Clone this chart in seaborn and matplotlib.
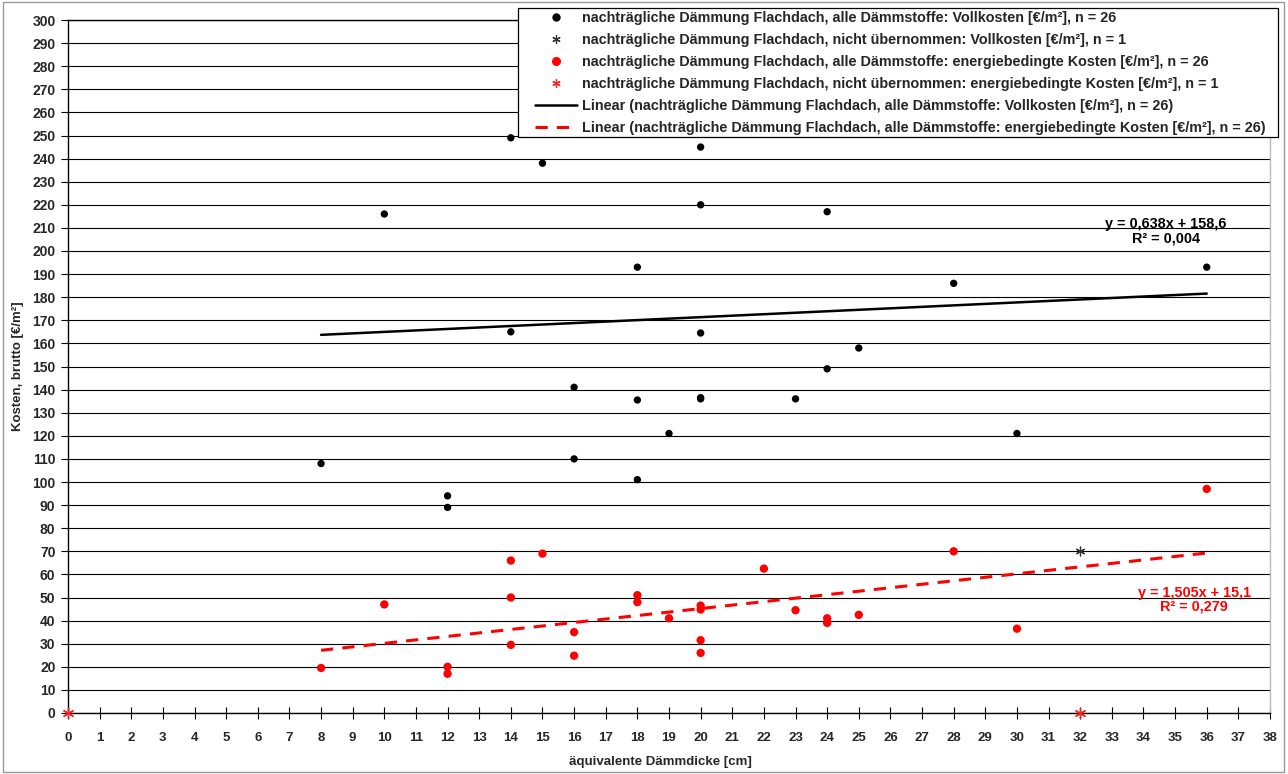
import numpy as np
import pandas as pd
import matplotlib.pyplot as plt
from matplotlib.lines import Line2D
from matplotlib.patches import Rectangle
import seaborn as sns

# ─────────────────────────────────────────────
# DATA
# ─────────────────────────────────────────────
voll_x = [8, 10, 12, 12, 14, 14, 15, 16, 16, 18, 18, 18, 19, 20, 20, 20, 20, 20,
          23, 24, 24, 25, 28, 30, 36]
voll_y = [108, 216, 94, 89, 249, 165, 238, 141, 110, 193, 135.5, 101, 121, 245,
          220, 164.5, 136.5, 136, 136, 217, 149, 158, 186, 121, 193]

energ_x = [8, 10, 12, 12, 14, 14, 14, 15, 16, 16, 18, 18, 19, 20, 20, 20, 20,
           22, 23, 24, 24, 25, 28, 30, 36]
energ_y = [19.5, 47, 20, 17, 66, 50, 29.5, 69, 35, 24.8, 51, 48, 41, 46.5, 44.8,
           31.5, 26, 62.5, 44.5, 41, 39, 42.5, 70, 36.5, 97]

# "nicht übernommen" (n = 1 each)
nicht_voll_x = [32]
nicht_voll_y = [70]
nicht_energ_x = [0, 32]
nicht_energ_y = [0, 0]

# trend lines (Excel linear fit as labelled)
voll_fit = (0.638, 158.6)
energ_fit = (1.505, 15.1)
fit_range = [8, 36]

x_ticks = list(range(0, 39))
y_ticks = list(range(0, 301, 10))

labels = [
    "nachträgliche Dämmung Flachdach, alle Dämmstoffe: Vollkosten [€/m²], n = 26",
    "nachträgliche Dämmung Flachdach, nicht übernommen: Vollkosten [€/m²], n = 1",
    "nachträgliche Dämmung Flachdach, alle Dämmstoffe: energiebedingte Kosten [€/m²], n = 26",
    "nachträgliche Dämmung Flachdach, nicht übernommen: energiebedingte Kosten [€/m²], n = 1",
    "Linear (nachträgliche Dämmung Flachdach, alle Dämmstoffe: Vollkosten [€/m²], n = 26)",
    "Linear (nachträgliche Dämmung Flachdach, alle Dämmstoffe: energiebedingte Kosten [€/m²], n = 26)",
]

# ─────────────────────────────────────────────
# SETTINGS
# ─────────────────────────────────────────────
sns.set_theme(style="white")
plt.rcParams['font.family'] = ['Liberation Sans', 'DejaVu Sans']
plt.rcParams['font.weight'] = 'bold'

W, H = 1288, 774
fig = plt.figure(figsize=(W / 100, H / 100), dpi=100)
ax = fig.add_axes([68 / W, 61 / H, 1202 / W, 693 / H])

# points
sns.scatterplot(x=voll_x, y=voll_y, ax=ax, color='black', s=28,
                edgecolor='none', zorder=3)
sns.scatterplot(x=energ_x, y=energ_y, ax=ax, color='#ff0000', s=36,
                edgecolor='none', zorder=3)
ax.scatter(nicht_voll_x, nicht_voll_y, marker=(6, 2, 0), s=40, color='#333333',
           linewidths=0.9, zorder=4, clip_on=False)
ax.scatter(nicht_energ_x, nicht_energ_y, marker=(6, 2, 0), s=55, color='#ff2020',
           linewidths=1.0, zorder=4, clip_on=False)

# trend lines
fx = np.array(fit_range, dtype=float)
sns.lineplot(x=fx, y=voll_fit[0] * fx + voll_fit[1], ax=ax, color='black',
             lw=1.8, zorder=2)
sns.lineplot(x=fx, y=energ_fit[0] * fx + energ_fit[1], ax=ax, color='#ff0000',
             lw=2.2, dashes=(4, 3), zorder=2)

ax.text(34.7, 208.5, "y = 0,638x + 158,6\nR² = 0,004", ha='center', va='center',
        fontsize=10.4, fontweight='bold', color='black', linespacing=1.0)
ax.text(35.6, 49, "y = 1,505x + 15,1\nR² = 0,279", ha='center', va='center',
        fontsize=10.4, fontweight='bold', color='#ff0000', linespacing=1.0)

# axes
ax.set_xlim(0, 38)
ax.set_ylim(0, 300)
ax.set_xticks(x_ticks)
ax.set_yticks(y_ticks)
ax.grid(axis='y', color='black', lw=0.8)
ax.grid(axis='x', visible=False)
ax.set_axisbelow(True)
for side in ['left', 'bottom', 'top']:
    ax.spines[side].set_color('black')
    ax.spines[side].set_linewidth(1.0)
ax.spines['right'].set_color('#bbbbbb')
ax.spines['right'].set_linewidth(1.0)

ax.tick_params(axis='x', direction='inout', length=8, width=0.8, color='black',
               labelsize=9.5, pad=10, bottom=True)
ax.tick_params(axis='y', direction='out', length=5, width=0.8, color='black',
               labelsize=10, pad=4, left=True)
for lab in ax.get_xticklabels() + ax.get_yticklabels():
    lab.set_fontweight('bold')

ax.set_xlabel("äquivalente Dämmdicke [cm]", fontsize=9.5, fontweight='bold',
              labelpad=8)
ax.xaxis.label.set_x((660 - 68) / 1202)
ax.set_ylabel("Kosten, brutto [€/m²]", fontsize=9.5, fontweight='bold',
              labelpad=6)

# legend box (frame drawn separately so it matches the Excel box)
fig.patches.append(Rectangle((518 / W, 1 - 137 / H), 760 / W, 129 / H,
                             transform=fig.transFigure, facecolor='white',
                             edgecolor='black', lw=0.9, zorder=2))

handles = [
    Line2D([], [], ls='none', marker='o', ms=5, color='black'),
    Line2D([], [], ls='none', marker=(6, 2, 0), ms=6, color='#333333', mew=0.9),
    Line2D([], [], ls='none', marker='o', ms=5.5, color='#ff0000'),
    Line2D([], [], ls='none', marker=(6, 2, 0), ms=6, color='#ff2020', mew=0.9),
    Line2D([], [], color='black', lw=1.8),
    Line2D([], [], color='#ff0000', lw=2.2, dashes=(4, 3)),
]
leg = fig.legend(handles, labels, loc='upper left',
                 bbox_to_anchor=(535 / W, 1 - 11 / H),
                 borderaxespad=0, borderpad=0, frameon=False,
                 labelspacing=0.55, handlelength=2.9, handletextpad=0.35,
                 prop={'weight': 'bold', 'size': 10.4})
leg.set_zorder(3)

# chart border
fig.patches.append(Rectangle((0.002, 0.002), 0.995, 0.995, transform=fig.transFigure,
                             fill=False, edgecolor='#999999', lw=1.0))

plt.savefig('out.png', dpi=100)
